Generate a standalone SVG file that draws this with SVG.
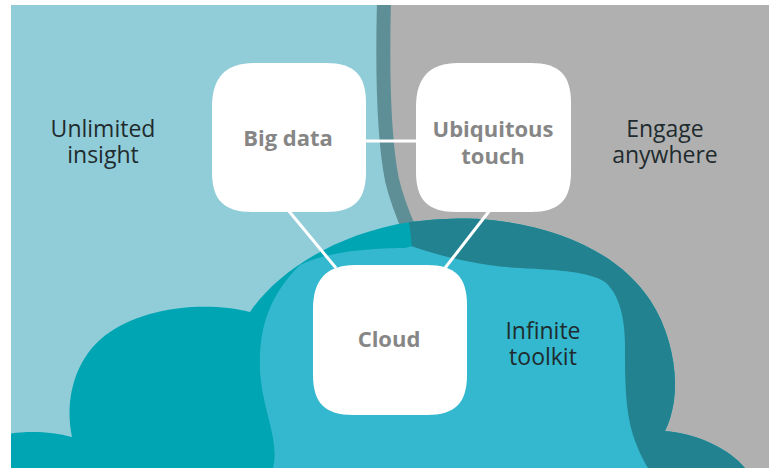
<svg xmlns="http://www.w3.org/2000/svg" width="769" height="468" viewBox="0 0 769 468">
  <defs>
    <clipPath id="panel">
      <rect x="11" y="5" width="758" height="463"/>
    </clipPath>
    <clipPath id="outerCloudClip">
      <path id="outerCloudShape" d="M 0,468 L 0,436 C 20,430 50,431 72,437 C 64,400 75,355 110,332 C 150,305 210,302 250,312 C 275,275 330,235 410,222 C 440,218 470,218 480,219 C 560,225 620,255 650,300 C 670,330 678,370 674,400 C 672,415 668,425 665,431 C 700,434 730,450 745,468 Z"/>
    </clipPath>
    <style>
      .box { fill: #ffffff; }
      .link { stroke: #ffffff; stroke-width: 3; fill: none; }
      .boxlabel { font-family: "Open Sans", "DejaVu Sans", sans-serif; font-weight: 700; font-size: 22px; fill: #868686; text-anchor: middle; }
      .area { font-family: "Open Sans", "DejaVu Sans", sans-serif; font-size: 23px; fill: #1f2b2e; text-anchor: middle; }
    </style>
  </defs>

  <rect x="0" y="0" width="769" height="468" fill="#ffffff"/>

  <g id="backdrop" clip-path="url(#panel)">
    <!-- insight side -->
    <rect x="0" y="0" width="769" height="468" fill="#91cdd8"/>
    <!-- engage side -->
    <path d="M 384,0 C 382,80 384,140 392,180 C 398,205 405,220 412,236 L 450,300 L 450,468 L 769,468 L 769,0 Z" fill="#b0b0b0"/>
    <!-- dividing band -->
    <path d="M 384,0 C 382,80 384,140 392,180 C 398,205 405,220 412,236 L 418,260" fill="none" stroke="#5f8f96" stroke-width="14"/>
    <!-- back cloud -->
    <path d="M 0,468 L 0,436 C 20,430 50,431 72,437 C 64,400 75,355 110,332 C 150,305 210,302 250,312 C 275,275 330,235 410,222 C 440,218 470,218 480,219 C 560,225 620,255 650,300 C 670,330 678,370 674,400 C 672,415 668,425 665,431 C 700,434 730,450 745,468 Z" fill="#00a5b3"/>
    <!-- overlap of band side and cloud -->
    <path clip-path="url(#outerCloudClip)" d="M 404,200 C 408,215 411,230 412,250 L 412,468 L 769,468 L 769,200 Z" fill="#23828f"/>
    <!-- front cloud -->
    <path d="M 273,468 C 280,440 262,410 260,370 C 258,320 275,290 300,265 C 330,250 380,248 405,248 C 409,247 411,246 414,247 C 440,256 480,266 520,268 C 560,270 590,272 605,282 C 620,295 625,320 625,345 C 625,380 625,410 633,435 C 638,450 643,460 648,468 Z" fill="#33b8cf"/>
  </g>

  <g id="connectors">
    <path class="link" d="M 366,141 H 416"/>
    <path class="link" d="M 288,210 L 336,268"/>
    <path class="link" d="M 490,210 L 445,268"/>
  </g>

  <g id="big-data">
    <path class="box" d="M 254,63 H 326 C 354,63 366,75 366,103 V 172 C 366,200 354,212 326,212 H 252 C 224,212 212,200 212,172 V 107 C 212,77 226,63 254,63 Z"/>
    <text class="boxlabel" x="288" y="146">Big data</text>
  </g>

  <g id="ubiquitous-touch">
    <path class="box" d="M 458,63 H 531 C 559,63 571,75 571,103 V 172 C 571,200 559,212 531,212 H 456 C 428,212 416,200 416,172 V 107 C 416,77 430,63 458,63 Z"/>
    <text class="boxlabel"><tspan x="493" y="137">Ubiquitous</tspan><tspan x="493" y="164">touch</tspan></text>
  </g>

  <g id="cloud">
    <path class="box" d="M 355,265 H 427 C 455,265 467,277 467,305 V 375 C 467,403 455,415 427,415 H 353 C 325,415 313,403 313,375 V 309 C 313,279 327,265 355,265 Z"/>
    <text class="boxlabel" x="389" y="347">Cloud</text>
  </g>

  <g id="unlimited-insight">
    <text class="area"><tspan x="103" y="137">Unlimited</tspan><tspan x="103" y="163">insight</tspan></text>
  </g>

  <g id="engage-anywhere">
    <text class="area"><tspan x="665" y="137">Engage</tspan><tspan x="665" y="163">anywhere</tspan></text>
  </g>

  <g id="infinite-toolkit">
    <text class="area"><tspan x="543" y="339">Infinite</tspan><tspan x="543" y="365">toolkit</tspan></text>
  </g>
</svg>
